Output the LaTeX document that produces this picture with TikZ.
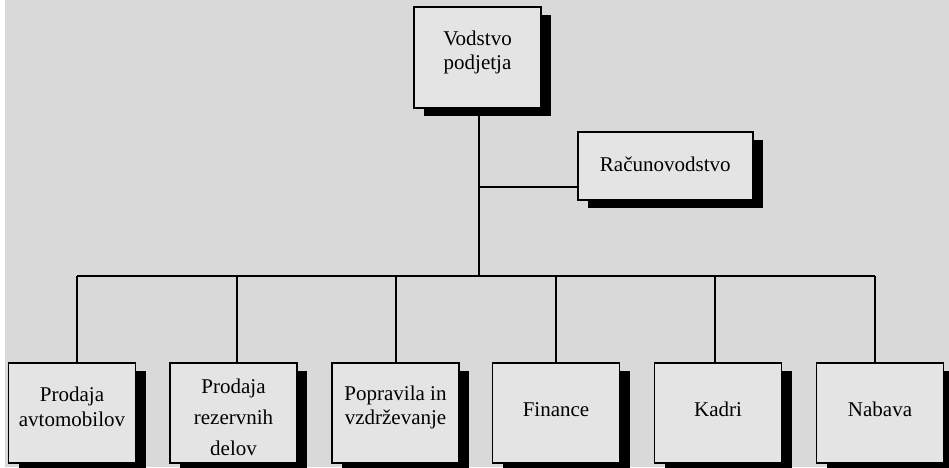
\documentclass[tikz,border=0pt]{standalone}
\usepackage{fontspec}
\setmainfont{Liberation Serif}
\usetikzlibrary{shadows}
\definecolor{pagegray}{HTML}{D9D9D9}
\definecolor{boxgray}{HTML}{E4E4E4}
% box text: first baseline placed #1 above the box centre, lines stacked below
\newcommand{\boxtext}[2]{\raisebox{#1}[0pt][0pt]{\begin{tabular}[t]{@{}c@{}}#2\end{tabular}}}
\tikzset{
  orgbox/.style={draw=black, fill=boxgray, line width=1.8pt, inner sep=0pt,
    align=center, font=\fontsize{21}{24.5}\selectfont,
    minimum width=127pt, minimum height=100pt,
    drop shadow={opacity=1, fill=black, shadow xshift=10pt, shadow yshift=-8pt}},
  link/.style={draw=black, line width=1.8pt}
}
\begin{document}
\begin{tikzpicture}[x=1pt,y=-1pt]
\useasboundingbox (0,0) rectangle (949,467);
\fill[white] (0,0) rectangle (5,467);
\fill[pagegray] (5,0) rectangle (949,467);

% boxes
\node[orgbox, minimum height=101pt] (top) at (477.5,57.5) {\boxtext{12.5pt}{Vodstvo\\podjetja}};
\node[orgbox, minimum width=175pt, minimum height=68pt] (rac) at (665.3,166) {\boxtext{-5pt}{Računovodstvo}};
\node[orgbox] (b1) at (72,413) {\boxtext{11.3pt}{Prodaja\\avtomobilov}};
\node[orgbox, font=\fontsize{21}{31}\selectfont] (b2) at (233.5,413) {\boxtext{20pt}{Prodaja\\rezervnih\\delov}};
\node[orgbox] (b3) at (395.5,413) {\boxtext{13pt}{Popravila in\\vzdrževanje}};
\node[orgbox] (b4) at (556,413) {\boxtext{-3.7pt}{Finance}};
\node[orgbox] (b5) at (718,413) {\boxtext{-3pt}{Kadri}};
\node[orgbox] (b6) at (880,413) {\boxtext{-3pt}{Nabava}};

% junction points
\coordinate (trunk) at (479,275.7);
\coordinate (racj) at (479,186.7);
\coordinate (j1) at (77,275.7);
\coordinate (j2) at (236.7,275.7);
\coordinate (j3) at (396,275.7);
\coordinate (j4) at (556,275.7);
\coordinate (j5) at (714.7,275.7);
\coordinate (j6) at (874.7,275.7);

% connectors
\draw[link] (trunk |- top.south) -- (trunk);
\draw[link] (racj) -- (racj -| rac.west);
\draw[link] (j1) -- (j6);
\foreach \k in {1,...,6}{
  \draw[link] (j\k) -- (j\k |- b\k.north);
}
\end{tikzpicture}
\end{document}
